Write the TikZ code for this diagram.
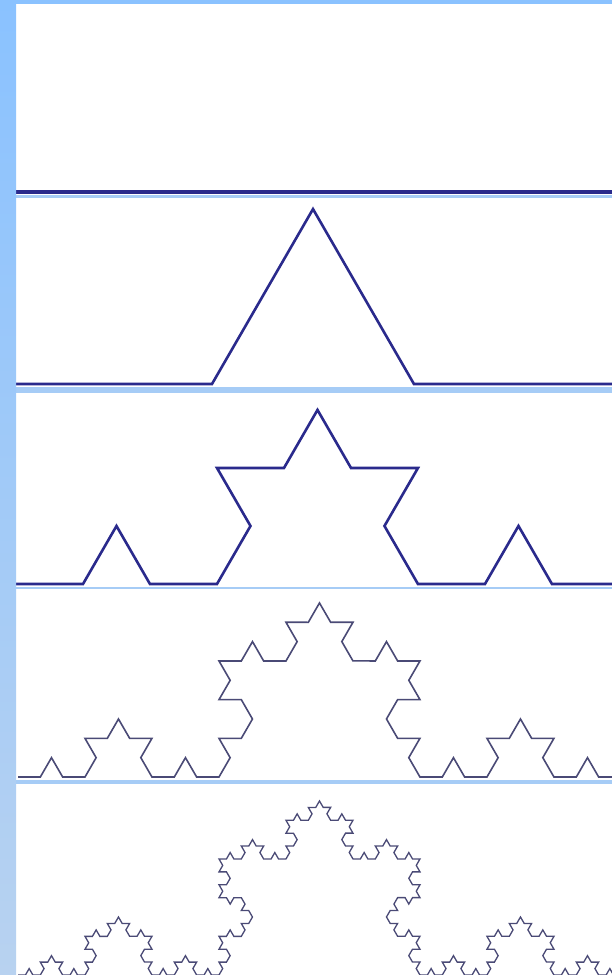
\documentclass[tikz,border=0pt]{standalone}
\usetikzlibrary{decorations.fractals}
\definecolor{stripTop}{RGB}{138,194,255}
\definecolor{stripBot}{RGB}{184,210,240}
\definecolor{band}{RGB}{166,204,246}
\definecolor{navy}{RGB}{42,42,140}
\definecolor{slate}{RGB}{74,74,118}
\begin{document}
\begin{tikzpicture}[x=1pt,y=-1pt,
  heavy/.style={draw=navy, line width=2.6pt, line join=miter},
  light/.style={draw=slate, line width=1.6pt, line join=miter},
  sep/.style={fill=band},
  decoration=Koch snowflake]
\useasboundingbox (0,0) rectangle (612,975);
\fill[white] (0,0) rectangle (612,975);
\begin{scope}
\clip (16,4) rectangle (612,975);
% panel 1
\draw[heavy, line width=3.2pt] (16,192) -- (612,192);
% panel 2
\draw[heavy] decorate{(10,384) -- (616,384)};
% panel 3
\draw[heavy] decorate{decorate{(16,584) -- (619,584)}};
% panel 4
\draw[light] decorate{decorate{decorate{(18,777) -- (621,777)}}};
% panel 5
\draw[light, line width=1.3pt] decorate{decorate{decorate{decorate{(18,975) -- (621,975)}}}};
\end{scope}
% separators
\fill[sep] (16,194.5) rectangle (612,197.5);
\fill[sep] (16,386.5) rectangle (612,393);
\fill[sep] (16,587) rectangle (612,588.5);
\fill[sep] (16,780) rectangle (612,784);
\fill[stripTop] (0,0) rectangle (612,4);
\shade[top color=stripTop, bottom color=stripBot] (0,0) rectangle (16,975);
\end{tikzpicture}
\end{document}
